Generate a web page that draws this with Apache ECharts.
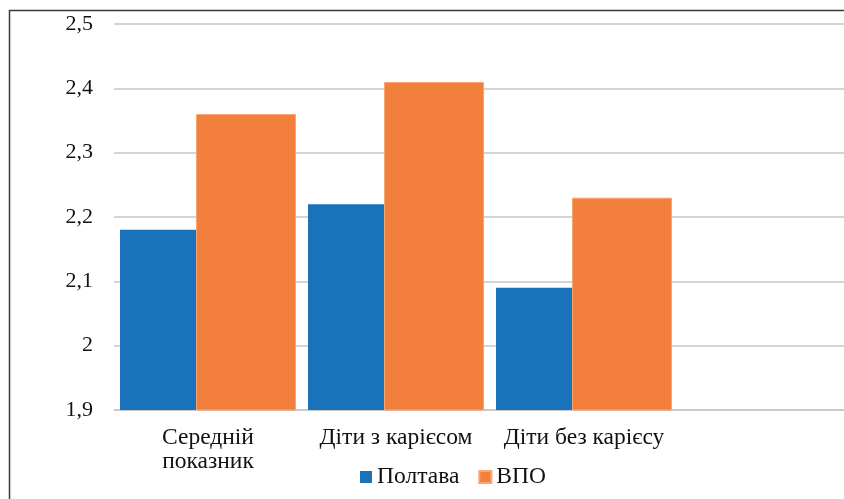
<!DOCTYPE html>
<html><head><meta charset="utf-8">
<script src="https://cdn.jsdelivr.net/npm/echarts@6/dist/echarts.min.js"></script>
<style>html,body{margin:0;padding:0;background:#fff}#c{width:844px;height:499px}</style>
</head><body><div id="c"></div>
<script>
const categories = ['Середній\nпоказник', 'Діти з карієсом', 'Діти без карієсу', ''];
const poltava = [2.18, 2.22, 2.09, null];
const vpo = [2.36, 2.41, 2.23, null];
const seriesNames = ['Полтава', 'ВПО'];
const yMin = 1.9, yMax = 2.5, yStep = 0.1;

const FONT = '"Times New Roman", "Liberation Serif", serif';
const chart = echarts.init(document.getElementById('c'), null, {renderer: 'canvas'});
chart.setOption({
  animation: false,
  backgroundColor: '#fff',
  graphic: [{
    type: 'polyline', shape: {points: [[9.5, 520], [9.5, 10.5], [860, 10.5]]},
    style: {stroke: '#3a3a3a', lineWidth: 1.5, fill: null}, z: 10
  }],
  grid: {left: 114, width: 752, top: 24, bottom: 89, containLabel: false, outerBoundsMode: 'none'},
  legend: {
    data: seriesNames, left: 355, top: 460, itemWidth: 12, itemHeight: 12, itemGap: 19,
    icon: 'rect', textStyle: {fontFamily: FONT, fontSize: 23.5, color: '#111'}
  },
  xAxis: {
    type: 'category', data: categories,
    axisLine: {show: true, lineStyle: {color: '#c6c6c6', width: 1.5}},
    axisTick: {show: false},
    axisLabel: {fontFamily: FONT, fontSize: 23.5, color: '#111', margin: 16, lineHeight: 24, interval: 0}
  },
  yAxis: {
    type: 'value', min: yMin, max: yMax, interval: yStep,
    axisLine: {show: false}, axisTick: {show: false},
    splitLine: {lineStyle: {color: '#c6c6c6', width: 1.5}},
    axisLabel: {fontFamily: FONT, fontSize: 22, color: '#111', margin: 21,
      formatter: v => (Math.round(v * 10) / 10).toString().replace('.', ',')}
  },
  series: [
    {name: seriesNames[0], type: 'bar', data: poltava, barWidth: 76, barGap: '0%',
      itemStyle: {color: '#1a72bb'}},
    {name: seriesNames[1], type: 'bar', data: vpo, barWidth: 100, barGap: '0%',
      itemStyle: {color: '#f37f3c', borderColor: '#f8a574', borderWidth: 1}}
  ]
});
</script></body></html>
